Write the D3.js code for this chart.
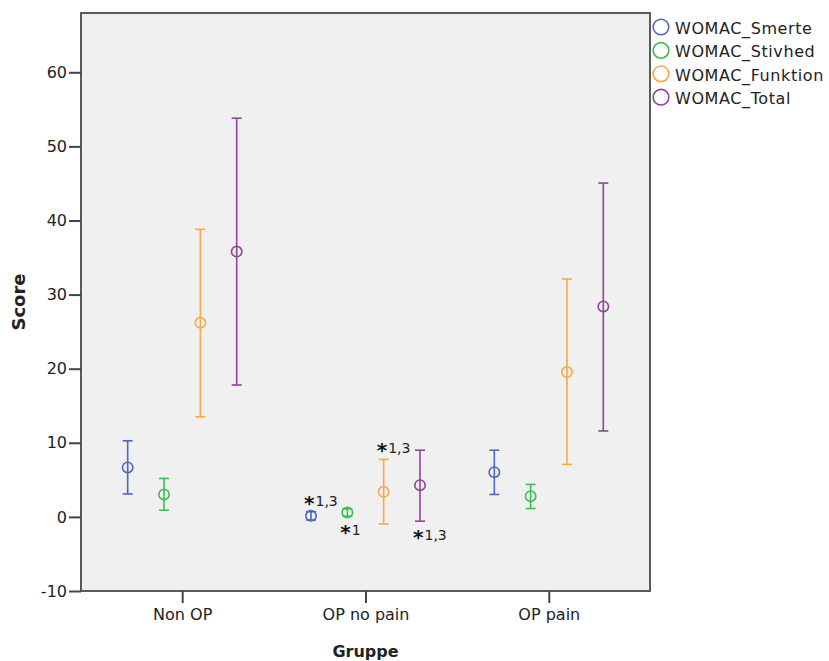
<!DOCTYPE html>
<html>
<head>
<meta charset="utf-8">
<script src="https://cdn.jsdelivr.net/npm/d3@7"></script>
<style>
  html, body { margin: 0; padding: 0; background: #fff; }
  svg { display: block; }
  text { font-family: "DejaVu Sans", "Liberation Sans", Arial, sans-serif; fill: #222; }
</style>
</head>
<body>
<svg id="chart" width="829" height="661"></svg>
<script>
// Groups on the x axis and the four WOMAC scores
const groups = ["Non OP", "OP no pain", "OP pain"];
const seriesNames = ["WOMAC_Smerte", "WOMAC_Stivhed", "WOMAC_Funktion", "WOMAC_Total"];
const seriesColors = ["#4f66be", "#3cbf50", "#f9a844", "#8e449a"];

// Means and confidence bounds per group, one array per score (order = groups)
const smerteMean   = [6.67, 0.14, 6.04];
const smerteLow    = [3.10, -0.42, 3.03];
const smerteHigh   = [10.27, 0.70, 9.00];

const stivhedMean  = [3.03, 0.60, 2.80];
const stivhedLow   = [0.90, 0.10, 1.13];
const stivhedHigh  = [5.19, 1.10, 4.38];

const funktionMean = [26.2, 3.38, 19.55];
const funktionLow  = [13.5, -0.95, 7.08];
const funktionHigh = [38.8, 7.76, 32.10];

const totalMean    = [35.8, 4.28, 28.4];
const totalLow     = [17.8, -0.58, 11.6];
const totalHigh    = [53.8, 9.00, 45.05];

const yTicks = [-10, 0, 10, 20, 30, 40, 50, 60];
const yTickLabels = ["-10", "0", "10", "20", "30", "40", "50", "60"];

// Case annotations shown in the "OP no pain" group
const noteSeries = ["WOMAC_Smerte", "WOMAC_Stivhed", "WOMAC_Funktion", "WOMAC_Total"];
const noteText   = ["1,3", "1", "1,3", "1,3"];
const noteSide   = ["above", "below", "above", "below"];
const noteGroup  = "OP no pain";

const meansBySeries = [smerteMean, stivhedMean, funktionMean, totalMean];
const lowsBySeries  = [smerteLow, stivhedLow, funktionLow, totalLow];
const highsBySeries = [smerteHigh, stivhedHigh, funktionHigh, totalHigh];

const rows = [];
seriesNames.forEach((s, si) => {
  groups.forEach((g, gi) => {
    rows.push({ series: s, group: g, mean: meansBySeries[si][gi],
                low: lowsBySeries[si][gi], high: highsBySeries[si][gi],
                color: seriesColors[si] });
  });
});

const svg = d3.select("#chart");
const frame = { left: 81, right: 650, top: 13, bottom: 591 };

const y = d3.scaleLinear().domain([-10, 68]).range([frame.bottom, frame.top]);
const x = d3.scalePoint().domain(groups).range([frame.left, frame.right]).padding(0.552);
const xOff = d3.scalePoint().domain(seriesNames).range([-54.5, 54.5]);
const color = d3.scaleOrdinal().domain(seriesNames).range(seriesColors);

// Plot background
svg.append("rect")
  .attr("x", frame.left).attr("y", frame.top)
  .attr("width", frame.right - frame.left).attr("height", frame.bottom - frame.top)
  .attr("fill", "#f0f0f0").attr("stroke", "#5a5a5a").attr("stroke-width", 2);

// Y axis
const yAxis = svg.append("g")
  .attr("transform", `translate(${frame.left},0)`)
  .call(d3.axisLeft(y).tickValues(yTicks).tickSize(12).tickPadding(2)
    .tickFormat((d, i) => yTickLabels[i]));
yAxis.select(".domain").remove();
yAxis.selectAll(".tick line").attr("stroke", "#444").attr("stroke-width", 2);
yAxis.selectAll(".tick text").attr("font-size", 16).attr("fill", "#333")
  .attr("font-family", "DejaVu Sans, sans-serif");

// X axis
const xAxis = svg.append("g")
  .attr("transform", `translate(0,${frame.bottom})`)
  .call(d3.axisBottom(x).tickSize(12).tickPadding(6));
xAxis.select(".domain").remove();
xAxis.selectAll(".tick line").attr("stroke", "#444").attr("stroke-width", 2);
xAxis.selectAll(".tick text").attr("font-size", 16).attr("fill", "#333")
  .attr("font-family", "DejaVu Sans, sans-serif");

// Axis titles
svg.append("text")
  .attr("transform", `translate(25,${(y(68) + y(-10)) / 2}) rotate(-90)`)
  .attr("text-anchor", "middle").attr("font-weight", "bold").attr("font-size", 18)
  .text("Score");
svg.append("text")
  .attr("x", x("OP no pain")).attr("y", 657)
  .attr("text-anchor", "middle").attr("font-weight", "bold").attr("font-size", 16)
  .text("Gruppe");

// Error bars with means
const marks = svg.append("g");
const cx = d => x(d.group) + xOff(d.series);
const cap = 5;

const bar = marks.selectAll("g.bar").data(rows).enter().append("g").attr("class", "bar")
  .attr("stroke", d => d.color).attr("fill", "none").attr("stroke-width", 1.6);
bar.append("line")
  .attr("x1", cx).attr("x2", cx)
  .attr("y1", d => y(d.low)).attr("y2", d => y(d.high));
bar.append("line")
  .attr("x1", d => cx(d) - cap).attr("x2", d => cx(d) + cap)
  .attr("y1", d => y(d.high)).attr("y2", d => y(d.high));
bar.append("line")
  .attr("x1", d => cx(d) - cap).attr("x2", d => cx(d) + cap)
  .attr("y1", d => y(d.low)).attr("y2", d => y(d.low));
bar.append("circle")
  .attr("cx", cx).attr("cy", d => y(d.mean)).attr("r", 5.2)
  .attr("stroke-width", 1.6);

// Case annotations
noteSeries.forEach((s, i) => {
  const r = rows.find(d => d.series === s && d.group === noteGroup);
  const px = cx(r) - 7;
  const py = noteSide[i] === "above" ? y(r.high) - 12 : y(r.low) + 13;
  const t = svg.append("text").attr("x", px).attr("y", py + 6);
  t.append("tspan").attr("font-size", 20).attr("font-weight", "bold").attr("fill", "#111")
    .attr("dy", 4).text("*");
  t.append("tspan").attr("font-size", 14).attr("fill", "#222")
    .attr("dy", -4).attr("dx", 1).text(noteText[i]);
});

// Legend
const legend = svg.append("g").attr("transform", "translate(661,27)");
seriesNames.forEach((s, i) => {
  const row = legend.append("g").attr("transform", `translate(0,${i * 23.4})`);
  row.append("circle").attr("r", 7.8).attr("fill", "none")
    .attr("stroke", color(s)).attr("stroke-width", 1.6);
  row.append("text").attr("x", 14).attr("y", 7).attr("font-size", 16)
    .attr("letter-spacing", 0.6).attr("fill", "#222").text(s);
});
</script>
</body>
</html>
